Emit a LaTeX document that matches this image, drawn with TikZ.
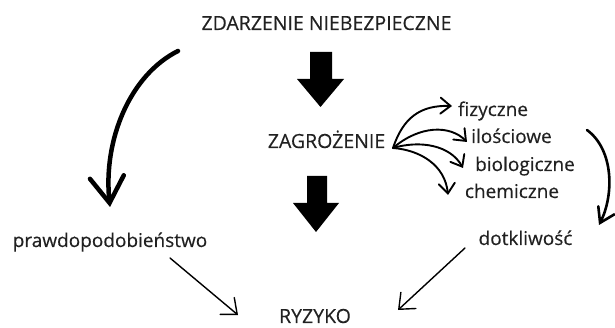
\documentclass[tikz,border=0pt]{standalone}
\usepackage{fontspec}
\setmainfont{Open Sans}[FakeBold=0.35]
\usetikzlibrary{arrows.meta}
\definecolor{txt}{gray}{0.13}
\tikzset{
  lbl/.style={inner sep=0pt, anchor=base, text=txt, font=\fontsize{19}{22}\selectfont},
  capslbl/.style={inner sep=0pt, anchor=base, text=txt, font=\fontsize{19.5}{22}\selectfont},
  bigcurve/.style={line width=4.5pt, line cap=round, -{Straight Barb[length=26pt,width=34pt,line cap=round]}},
  midcurve/.style={line width=2.6pt, line cap=round, -{Straight Barb[length=14pt,width=18pt,line cap=round]}},
  fanarrow/.style={line width=1.9pt, line cap=round, -{Straight Barb[length=10pt,width=16pt,line cap=round]}},
  thinarrow/.style={line width=1.4pt, line cap=round, -{Straight Barb[length=13pt,width=22pt,line cap=round]}},
  blockarrow/.style={fill=black, draw=none}
}
\begin{document}
\begin{tikzpicture}[x=1pt,y=-1pt]
\useasboundingbox (0,0) rectangle (615,328);
% texts
\node[capslbl] (zn) at (326.5,30) {ZDARZENIE NIEBEZPIECZNE};
\node[capslbl] (zg) at (326.5,148) {ZAGROŻENIE};
\node[capslbl] (rz) at (315,323) {RYZYKO};
\node[lbl] (pr) at (110,247) {prawdopodobieństwo};
\node[lbl] (dk) at (525.5,245) {dotkliwość};
\node[lbl] (fz) at (493,116) {fizyczne};
\node[lbl] (il) at (511.5,143) {ilościowe};
\node[lbl] (bi) at (525,171) {biologiczne};
\node[lbl] (ch) at (512,198) {chemiczne};
% block arrows
\fill[blockarrow] (310,52) -- (332,52) -- (332,79) -- (344,79) -- (320.5,107) -- (297,79) -- (310,79) -- cycle;
\fill[blockarrow] (307,176) -- (327,176) -- (327,203) -- (339,203) -- (316,232) -- (293,203) -- (307,203) -- cycle;
% connector end points
\coordinate (a1s) at (178,51);
\coordinate (a1e) at (110,207);
\coordinate (a2s) at (587,130);
\coordinate (a2e) at (599,225);
\coordinate (fo) at (393,148);
\coordinate (f1) at (452,106);
\coordinate (f2) at (467,142);
\coordinate (f3) at (463,168);
\coordinate (f4) at (448,195);
\coordinate (b1s) at (170,258);
\coordinate (b1e) at (238,315);
\coordinate (b2s) at (465,248);
\coordinate (b2e) at (398,310);
% curved arrows
\draw[bigcurve] (a1s) .. controls (130,75) and (103,140) .. (a1e);
\draw[midcurve] (a2s) .. controls (614,150) and (614,195) .. (a2e);
\draw[fanarrow] (fo) .. controls (403,118) and (420,105) .. (f1);
\draw[fanarrow] (fo) .. controls (420,125) and (450,125) .. (f2);
\draw[fanarrow] (fo) .. controls (420,140) and (450,145) .. (f3);
\draw[fanarrow] (fo) .. controls (420,150) and (445,165) .. (f4);
\draw[thinarrow] (b1s) -- (b1e);
\draw[thinarrow] (b2s) -- (b2e);
\end{tikzpicture}
\end{document}
